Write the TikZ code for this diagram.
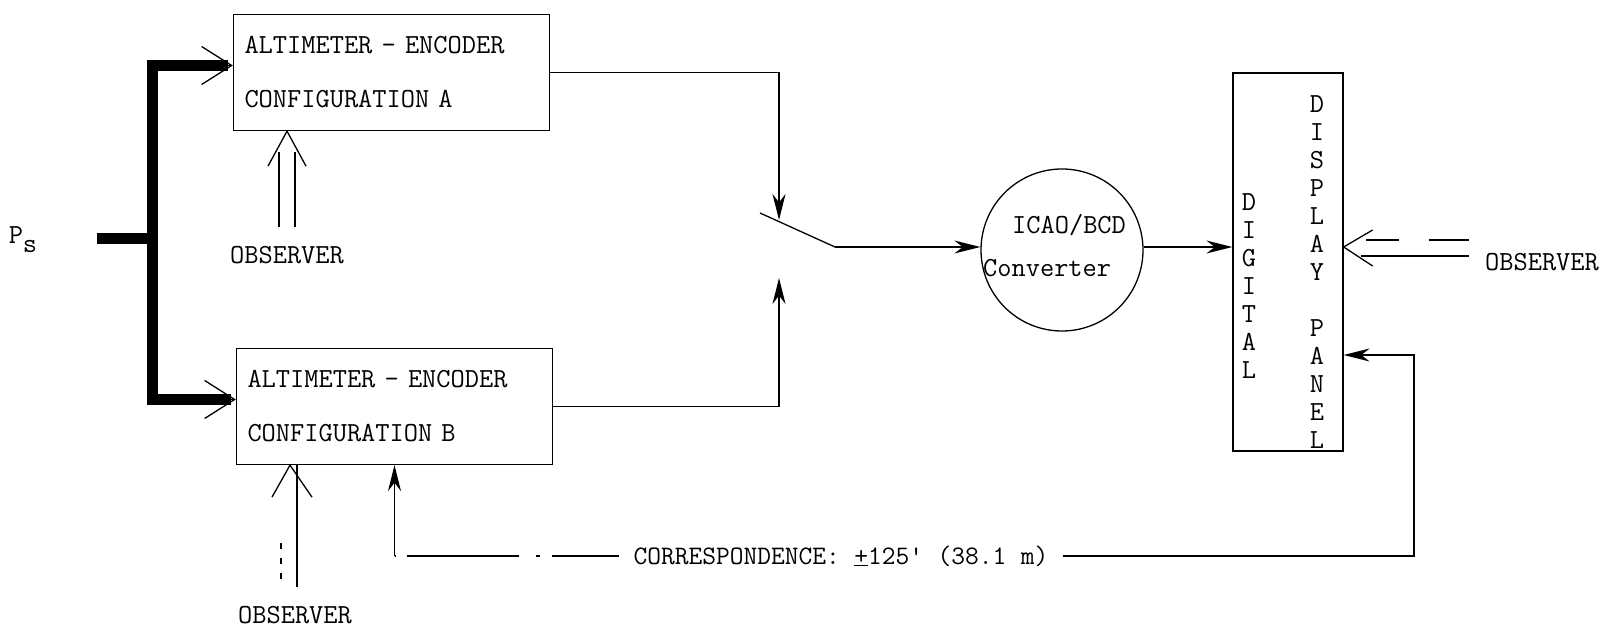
\documentclass[tikz,border=0pt]{standalone}
\usetikzlibrary{arrows.meta,positioning}
% typewriter face with full-cell word spaces
\newcommand\typefont{\ttfamily\fontsize{27.6}{27}\selectfont\spaceskip=0.525em\relax}
\tikzset{
  wire/.style={line width=1.3pt},
  flow/.style={wire, -{Stealth[length=26pt,width=13pt]}},
  pipe/.style={line width=11pt},
  openhead/.style={wire, -{Straight Barb[length=30pt,width=38pt]}},
  unitbox/.style={
    rectangle, draw, wire,
    minimum width=316pt, minimum height=116pt,
    text width=294pt, inner xsep=11pt, align=left,
    font=\typefont
  },
  convcircle/.style={circle, draw, wire, minimum size=162pt, inner sep=0pt},
  panelbox/.style={rectangle, draw, wire, minimum width=110pt, minimum height=378pt},
  txt/.style={inner sep=2pt, align=left, font=\typefont},
  lettercol/.style={inner sep=0pt, align=center,
    font=\ttfamily\fontsize{27.6}{28}\selectfont},
}
\begin{document}
\begin{tikzpicture}[x=1pt,y=-1pt]
\useasboundingbox (0,0) rectangle (1601,628);

% encoder units
\node[unitbox] (altA) at (391.5,72.5) {ALTIMETER - ENCODER\\[27pt]CONFIGURATION A};
\node[unitbox] (altB) at (394.5,406.5) {ALTIMETER - ENCODER\\[27pt]CONFIGURATION B};

% converter and panel
\node[convcircle] (conv) at (1062,250) {};
\node[txt, anchor=west] (convtxt) at (981,246) {\hspace*{29pt}ICAO/BCD\\[16pt]Converter};
\node[panelbox] (disp) at (1288,262) {};
\node[lettercol] (digital) at (1249,286) {D\\I\\G\\I\\T\\A\\L};
\node[lettercol] (display) at (1317,272.5) {D\\I\\S\\P\\L\\A\\Y\\[28pt]P\\A\\N\\E\\L};

% labels
\node[txt] (ps) at (23,240) {P\raisebox{-9pt}{s}};
\node[txt] (obsA) at (287,255) {OBSERVER};
\node[txt] (obsB) at (295,615) {OBSERVER};
\node[txt] (obsC) at (1542,262) {OBSERVER};
\node[txt, inner xsep=14pt, font=\typefont\fontsize{26.7}{27}\selectfont]
  (corr) at (841,556) {CORRESPONDENCE: \underline{+}125\textquotesingle{} (38.1 m)};

% static pressure line
\coordinate (psin) at (97,239);
\coordinate (psjoin) at (152,239);
\coordinate (inA) at ([yshift=7pt]altA.west);
\coordinate (inB) at ([yshift=7pt]altB.west);
\draw[pipe] (psin) -- (psjoin);
\draw[pipe] ([xshift=-5pt]inA) -| (psjoin) |- ([xshift=-5pt]inB);
\draw[openhead] ([xshift=-30pt]inA) -- (inA);
\draw[openhead] ([xshift=-30pt]inB) -- (inB);

% selector switch
\coordinate (swA) at (779,220);
\coordinate (swB) at (779,278);
\coordinate (blade) at (760,213);
\coordinate (pivot) at (835,247);
\draw[flow] (altA.east) -| (swA);
\draw[flow] (altB.east) -| (swB);
\draw[wire] (blade) -- (pivot);
\draw[flow] (pivot) -- (pivot -| conv.west);
\draw[flow] (conv.east |- pivot) -- (pivot -| disp.west);

% observers
\coordinate (eyeA) at (obsA.north |- altA.south);
\draw[wire] (eyeA) ++(-19,35) -- (eyeA) -- ++(19,35);
\draw[wire] (eyeA) ++(-8,21) -- ++(0,75);
\draw[wire] (eyeA) ++(8,21) -- ++(0,75);

\coordinate (eyeB) at ([xshift=-5pt]obsB.north |- altB.south);
\draw[wire] (eyeB) ++(-18,32) -- (eyeB) -- ++(22,32);
\draw[wire] (eyeB) ++(7,0) -- ++(0,122);
\draw[wire, dash pattern=on 6pt off 9pt] (eyeB) ++(-9,78) -- ++(0,44);

\coordinate (eyeC) at (disp.east |- pivot);
\draw[wire] (eyeC) ++(29,-17) -- (eyeC) -- ++(29,19);
\draw[wire, dash pattern=on 33pt off 30pt on 40pt off 20pt] (eyeC) ++(22,-7) -- ++(103,0);
\draw[wire] (eyeC) ++(17,9) -- ++(108,0);

% correspondence check loop
\coordinate (corrL) at (altB.south |- corr.west);
\coordinate (corrR) at (1414,355);
\draw[flow] (corrL) -- (altB.south);
\draw[wire, dash pattern=on 67pt off 12pt on 4pt off 17pt on 112pt off 11pt] (corr.west) -- (corrL);
\draw[flow] (corr.east) -| (corrR) -- (corrR -| disp.east);

\end{tikzpicture}
\end{document}
